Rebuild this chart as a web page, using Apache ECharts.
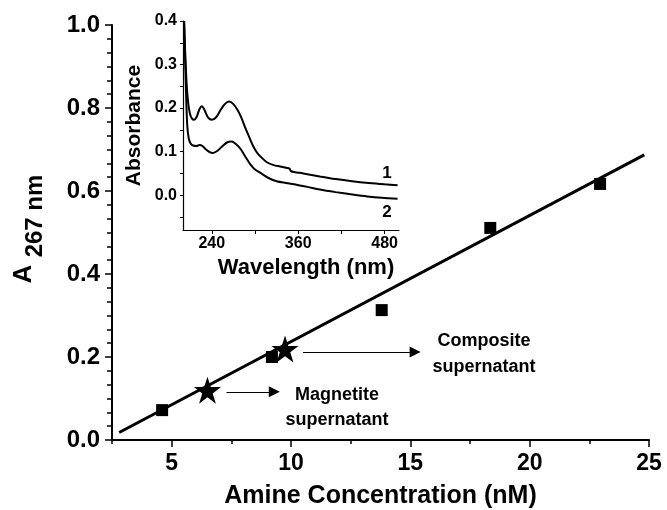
<!DOCTYPE html>
<html>
<head>
<meta charset="utf-8">
<script src="https://cdn.jsdelivr.net/npm/echarts@6/dist/echarts.min.js"></script>
<style>
  html, body { margin: 0; padding: 0; background: #fff; }
  #chart { width: 667px; height: 510px; }
</style>
</head>
<body>
<div id="chart"></div>
<script>
// calibration points (amine conc nM, A267)
const standards = [[4.6, 0.072], [9.2, 0.2], [13.8, 0.313], [18.35, 0.511], [22.95, 0.617]];
// supernatant samples (stars)
const samples = [[6.5, 0.12], [9.75, 0.219]];
// linear fit end points
const fitLine = [[2.8, 0.018], [24.8, 0.687]];

const xLabels = [5, 10, 15, 20, 25];
const xMinor = [2.5, 7.5, 12.5, 17.5, 22.5];

// inset spectra: wavelength (nm), absorbance
const spectrum1 = [
  [201.5, 0.4], [203, 0.33], [205, 0.257], [207, 0.215], [209.5, 0.188], [212, 0.177], [215.5, 0.173],
  [219, 0.18], [223, 0.198], [226.3, 0.204], [230, 0.195], [235, 0.178], [240, 0.173],
  [246, 0.179], [252, 0.195], [258, 0.209], [264, 0.215], [270, 0.209], [276, 0.195],
  [281, 0.178], [286, 0.157], [291.6, 0.135], [297, 0.114], [303, 0.097], [310, 0.085],
  [317, 0.075], [326, 0.069], [335, 0.066], [343, 0.063], [348, 0.061], [350, 0.055],
  [367, 0.05], [390, 0.043], [412, 0.037], [435, 0.032], [458, 0.028], [480, 0.025], [498, 0.023]
];
const spectrum2 = [
  [201.5, 0.4], [203, 0.31], [204.5, 0.22], [206, 0.158], [208, 0.13], [210.8, 0.118], [214, 0.114],
  [218.6, 0.113], [223, 0.115], [227, 0.113], [232, 0.105], [237, 0.099], [241.4, 0.097],
  [248, 0.102], [255, 0.113], [261, 0.121], [267.4, 0.123], [273, 0.118], [280, 0.106],
  [286, 0.09], [293.8, 0.07], [300, 0.059], [307.5, 0.051], [318, 0.04], [330, 0.032],
  [343, 0.028], [357.7, 0.024], [373, 0.019], [390, 0.013], [412, 0.007], [435, 0.0015],
  [456, -0.003], [476, -0.006], [498, -0.008]
];
const insetXLabels = [240, 360, 480];
const insetXTicks = [240, 300, 360, 420, 480];
const insetYLabels = [0, 0.1, 0.2, 0.3, 0.4];
const insetYTicks = [-0.05, 0, 0.05, 0.1, 0.15, 0.2, 0.25, 0.3, 0.35, 0.4];

// annotation arrows (data space of main chart)
const arrows = [
  [[10.5, 0.212], [15.2, 0.212]],
  [[7.3, 0.116], [9.3, 0.116]]
];

const FONT = 'Liberation Sans, Arial, sans-serif';
const ink = '#000';

const chart = echarts.init(document.getElementById('chart'));

const mainLine = () => ({ show: true, onZero: false, lineStyle: { color: ink, width: 2 } });

const option = {
  animation: false,
  backgroundColor: '#fff',
  grid: [
    { left: 112, right: 18, top: 25, bottom: 70, outerBoundsMode: 'none' },
    { left: 183, right: 268, top: 21, bottom: 280, outerBoundsMode: 'none' }
  ],
  xAxis: [
    {
      gridIndex: 0, type: 'value', min: 2.5, max: 25,
      name: 'Amine Concentration (nM)', nameLocation: 'middle', nameGap: 44,
      nameTextStyle: { fontFamily: FONT, fontWeight: 'bold', fontSize: 25, color: ink },
      axisLine: mainLine(),
      axisTick: { show: true, length: 7, lineStyle: { color: ink, width: 1.5 }, customValues: xLabels },
      axisLabel: { fontFamily: FONT, fontWeight: 'bold', fontSize: 23, color: ink, margin: 12, customValues: xLabels },
      splitLine: { show: false }
    },
    {
      gridIndex: 0, type: 'value', min: 2.5, max: 25, position: 'bottom',
      axisLine: { show: false },
      axisTick: { show: true, length: 4, lineStyle: { color: ink, width: 1.5 }, customValues: xMinor },
      axisLabel: { show: false },
      splitLine: { show: false }
    },
    {
      gridIndex: 1, type: 'value', min: 200, max: 500,
      name: 'Wavelength (nm)', nameLocation: 'middle', nameGap: 27,
      nameTextStyle: { fontFamily: FONT, fontWeight: 'bold', fontSize: 22, color: ink, padding: [0, 0, 0, 30] },
      axisLine: { show: true, onZero: false, lineStyle: { color: ink, width: 1.2 } },
      axisTick: { show: true, length: 4, lineStyle: { color: ink, width: 1 }, customValues: insetXTicks },
      axisLabel: { fontFamily: FONT, fontWeight: 'bold', fontSize: 16, color: ink, margin: 6, customValues: insetXLabels },
      splitLine: { show: false }
    }
  ],
  yAxis: [
    {
      gridIndex: 0, type: 'value', min: 0, max: 1, interval: 0.2,
      axisLine: mainLine(),
      axisTick: { show: true, length: 7, lineStyle: { color: ink, width: 1.5 } },
      minorTick: { show: true, splitNumber: 6, length: 5, lineStyle: { color: ink, width: 1.5 } },
      axisLabel: { fontFamily: FONT, fontWeight: 'bold', fontSize: 24, color: ink, margin: 12, formatter: v => v.toFixed(1) },
      splitLine: { show: false }
    },
    {
      gridIndex: 1, type: 'value', min: -0.08, max: 0.4,
      name: 'Absorbance', nameLocation: 'middle', nameGap: 38, nameRotate: 90,
      nameTextStyle: { fontFamily: FONT, fontWeight: 'bold', fontSize: 21, color: ink },
      axisLine: { show: true, onZero: false, lineStyle: { color: ink, width: 1.2 } },
      axisTick: { show: true, length: 3, lineStyle: { color: ink, width: 1 }, customValues: insetYTicks },
      axisLabel: { fontFamily: FONT, fontWeight: 'bold', fontSize: 16, color: ink, margin: 6, customValues: insetYLabels, formatter: v => v.toFixed(1) },
      splitLine: { show: false }
    }
  ],
  series: [
    {
      type: 'line', xAxisIndex: 0, yAxisIndex: 0, data: fitLine,
      symbol: 'none', lineStyle: { color: ink, width: 3 }, z: 2,
      markLine: {
        silent: true, symbol: ['none', 'path://M5,0 L10,16 L0,16 Z'], symbolSize: 11,
        lineStyle: { color: ink, width: 1, type: 'solid' },
        itemStyle: { color: ink },
        label: { show: false },
        data: arrows.map(a => [{ coord: a[0] }, { coord: a[1] }])
      }
    },
    {
      type: 'scatter', xAxisIndex: 0, yAxisIndex: 0, data: standards,
      symbol: 'rect', symbolSize: 12, itemStyle: { color: ink, opacity: 1 }, z: 3
    },
    {
      type: 'scatter', xAxisIndex: 0, yAxisIndex: 0, data: samples,
      symbol: 'path://M50,0 L61.8,35.5 L99,35.5 L69,57.5 L80.5,93 L50,71 L19.5,93 L31,57.5 L1,35.5 L38.2,35.5 Z',
      symbolSize: 27, itemStyle: { color: ink, opacity: 1 }, z: 4
    },
    {
      type: 'line', xAxisIndex: 2, yAxisIndex: 1, data: spectrum1,
      symbol: 'none', smooth: 0.3, lineStyle: { color: ink, width: 2 }
    },
    {
      type: 'line', xAxisIndex: 2, yAxisIndex: 1, data: spectrum2,
      symbol: 'none', smooth: 0.3, lineStyle: { color: ink, width: 2 }
    }
  ],
  graphic: [
    { type: 'text', x: 24, y: 274, rotation: Math.PI / 2,
      style: { text: 'A', fontFamily: FONT, fontWeight: 'bold', fontSize: 26, fill: ink, align: 'center', verticalAlign: 'middle' } },
    { type: 'text', x: 35, y: 216, rotation: Math.PI / 2,
      style: { text: '267 nm', fontFamily: FONT, fontWeight: 'bold', fontSize: 24, fill: ink, align: 'center', verticalAlign: 'middle' } },
    { type: 'text', x: 484, y: 354,
      style: { text: 'Composite\nsupernatant', fontFamily: FONT, fontWeight: 'bold', fontSize: 18, lineHeight: 26, fill: ink, align: 'center', verticalAlign: 'middle' } },
    { type: 'text', x: 337, y: 408,
      style: { text: 'Magnetite\nsupernatant', fontFamily: FONT, fontWeight: 'bold', fontSize: 18, lineHeight: 25, fill: ink, align: 'center', verticalAlign: 'middle' } },
    { type: 'text', x: 387, y: 173,
      style: { text: '1', fontFamily: FONT, fontWeight: 'bold', fontSize: 17, fill: ink, align: 'center', verticalAlign: 'middle' } },
    { type: 'text', x: 387, y: 212,
      style: { text: '2', fontFamily: FONT, fontWeight: 'bold', fontSize: 17, fill: ink, align: 'center', verticalAlign: 'middle' } }
  ]
};

chart.setOption(option);
window.addEventListener('resize', () => chart.resize());
</script>
</body>
</html>
